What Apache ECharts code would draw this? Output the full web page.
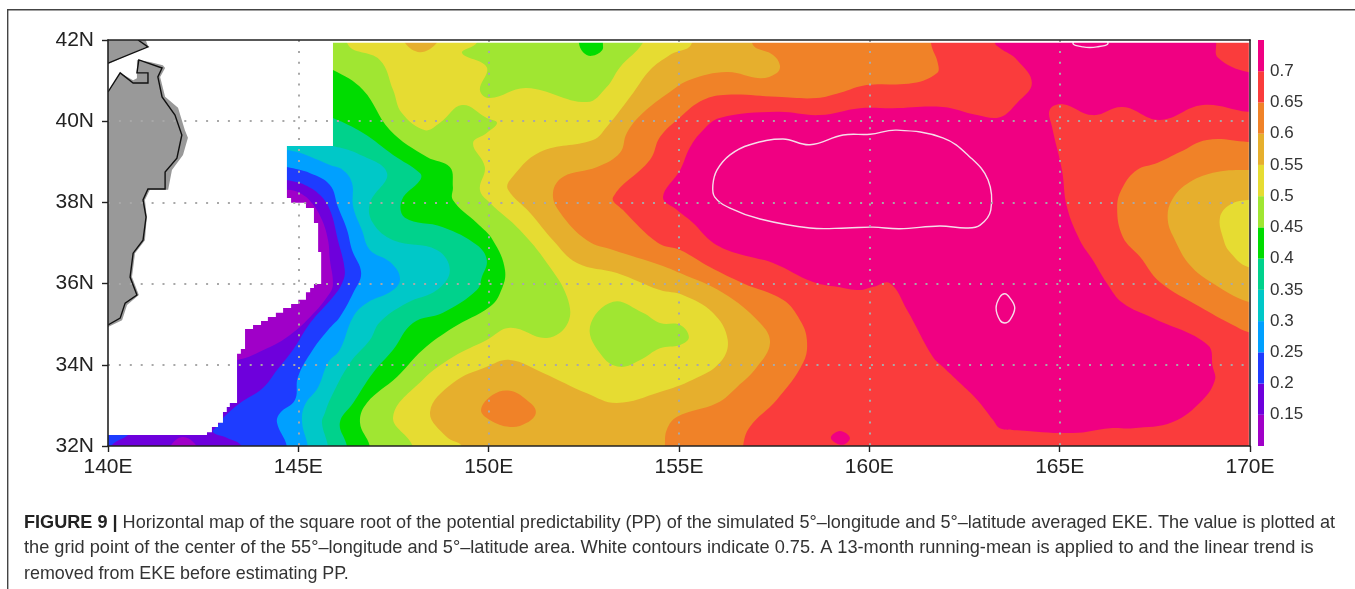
<!DOCTYPE html>
<html><head><meta charset="utf-8">
<style>html,body{margin:0;padding:0;background:#fff}#c{width:1355px;height:589px}</style>
<script src="https://cdn.jsdelivr.net/npm/echarts@6/dist/echarts.min.js"></script>
</head><body><div id="c"></div>
<script>
// Axis ticks
const lonTicks = [140,145,150,155,160,165,170];
const latTicks = [32,34,36,38,40,42];
const colorbarTicks = [0.15,0.2,0.25,0.3,0.35,0.4,0.45,0.5,0.55,0.6,0.65,0.7];
// Shading classes (low to high)
const levelEdges = [0.10,0.15,0.20,0.25,0.30,0.35,0.40,0.45,0.50,0.55,0.60,0.65,0.70,0.75];
const levelColors = ['#a000c8','#6e00dc','#1e3cff','#00a0ff','#00c8c8','#00d28c','#00dc00','#a0e632','#e6dc32','#e6af2d','#f08228','#fa3c3c','#f00082'];

// Contour outlines, [lon E, lat N]
const rBase = [[139,31],[172,31],[172,44],[139,44]];
const rPurpleCoast = [[142.42,38.31],[144.70,38.31],[145.04,38.23],[145.36,37.98],[145.62,37.57],[145.78,37.07],[145.83,36.58],[145.91,36.01],[145.83,35.77],[145.31,35.18],[144.70,34.68],[144.18,34.41],[143.39,34.12],[142.42,34.12]];
const rPurpleStrip = [[141.5,31.5],[141.63,31.98],[141.97,32.22],[142.34,31.98],[142.5,31.5]];
const rBlueCorner = [[139,32.4],[140.6,32.4],[140.5,32.25],[140.2,32.1],[140.0,31.95],[139,31.5]];
const rBlue = [[144,38.7],[144.70,38.55],[145.17,38.43],[145.57,38.18],[145.83,37.81],[146.04,37.07],[146.22,36.33],[146.15,36.01],[145.91,35.67],[145.31,35.03],[144.86,34.37],[144.44,33.87],[144.07,33.43],[143.47,33.06],[143.02,32.69],[142.89,32.51],[142.76,32.34],[143.13,32.20],[143.52,31.98],[143.7,31],[172,31],[172,44],[144,44]];
const rSky = [[144,39.0],[144.70,38.87],[145.31,38.72],[145.83,38.43],[146.04,37.89],[146.28,37.32],[146.41,36.83],[146.65,36.26],[146.44,35.77],[146.09,35.18],[145.83,34.91],[145.38,34.37],[144.99,33.70],[144.91,33.13],[144.52,32.81],[144.44,32.57],[144.70,31.98],[144.75,31],[172,31],[172,44],[144,44]];
const rCyan = [[144,39.4],[144.70,39.29],[145.04,39.22],[145.83,38.92],[146.17,38.80],[146.41,38.48],[146.44,37.89],[146.67,37.32],[146.88,36.83],[147.41,36.53],[147.67,36.14],[147.49,35.84],[146.80,35.52],[146.44,35.18],[146.09,34.37],[145.78,34.05],[145.52,33.45],[145.17,33.01],[145.10,32.57],[145.25,31.98],[145.3,31],[172,31],[172,44],[144,44]];
const rTeal = [[145.0,39.6],[145.91,39.39],[146.54,39.21],[147.33,38.72],[146.88,37.98],[146.96,37.49],[147.49,37.07],[148.64,36.83],[148.98,36.33],[148.64,35.84],[147.85,35.52],[147.14,35.05],[146.88,34.61],[146.36,34.05],[145.83,33.14],[145.70,32.82],[145.62,32.57],[145.78,31.98],[145.85,31],[172,31],[172,44],[145,44]];
const rGreen = [[145.0,40.4],[145.91,40.08],[146.70,39.71],[147.49,39.17],[148.20,38.72],[148.20,38.55],[147.72,38.06],[147.80,37.62],[148.80,37.39],[149.69,36.95],[149.95,36.58],[149.82,36.16],[149.69,35.84],[148.80,35.28],[148.01,35.03],[147.49,34.37],[146.96,33.80],[146.44,33.06],[146.09,32.57],[146.28,31.98],[146.35,31],[172,31],[172,44],[145,44]];
const rLime = [[145.0,41.6],[145.91,41.26],[146.70,40.77],[147.41,39.78],[148.38,39.12],[148.98,38.87],[149.06,38.38],[149.06,38.06],[149.69,37.49],[150.11,37.07],[150.43,36.33],[150.30,35.77],[150.03,35.43],[149.06,34.91],[148.27,34.37],[147.59,33.70],[146.80,33.06],[146.62,32.57],[146.88,31.98],[146.95,31],[172,31],[172,44],[145,44]];
const rYellow = [[146.2,44],[146.28,41.93],[147.14,41.51],[147.49,40.77],[147.72,40.20],[148.33,39.78],[148.72,39.96],[149.30,40.40],[149.95,40.08],[150.22,39.96],[149.95,39.71],[149.59,39.46],[149.90,38.87],[149.77,38.31],[150.03,37.99],[150.82,37.32],[151.53,36.51],[152.06,35.67],[152.08,35.03],[151.53,34.66],[150.56,34.91],[149.95,34.61],[149.06,34.19],[148.27,33.63],[147.49,32.72],[148.01,31.98],[148.1,31],[172,31],[172,44]];
const rLimeNorth = [[149.8,42.5],[149.69,41.93],[149.30,41.68],[149.95,41.33],[149.77,40.77],[150.03,40.57],[151.0,40.82],[152.58,40.47],[153.10,40.84],[153.45,41.33],[154.05,41.93],[154.2,42.5]];
const rLimeSouth = [[152.66,34.93],[153.27,35.55],[154.05,35.28],[154.50,35.03],[155.03,34.98],[155.26,34.68],[155.03,34.49],[154.50,34.41],[153.98,34.12],[153.45,33.95],[153.0,34.19]];
const rGreenNorth = [[152.4,42.2],[152.37,41.93],[152.48,41.70],[152.71,41.61],[152.98,41.75],[153.0,41.93],[153.0,42.2]];
const rGoldNorth = [[147.7,42.3],[147.8,41.93],[148.2,41.7],[148.64,41.93],[148.75,42.3]];
const rGold = [[155.5,44],[155.34,41.93],[154.76,41.63],[154.24,41.26],[153.79,40.69],[153.10,39.86],[152.74,39.54],[151.35,39.24],[150.56,38.55],[150.51,38.31],[151.09,37.74],[151.69,37.07],[152.32,36.51],[153.37,36.26],[154.50,35.84],[155.10,35.72],[155.89,35.28],[156.28,34.61],[156.07,34.05],[155.36,33.63],[154.50,33.33],[153.37,33.06],[152.58,33.30],[151.43,33.80],[150.56,34.12],[149.95,33.95],[149.06,33.55],[148.46,32.84],[148.90,32.22],[149.30,31.98],[149.4,31],[172,31],[172,44]];
const rOrange = [[156.8,44],[156.92,41.93],[157.47,41.63],[157.65,41.38],[157.57,41.19],[157.13,41.06],[156.26,41.21],[155.29,41.02],[154.76,40.72],[154.05,40.20],[153.63,39.71],[153.45,39.22],[152.85,38.87],[151.96,38.63],[151.69,38.23],[151.87,37.76],[152.58,37.07],[153.27,36.83],[154.50,36.46],[155.03,36.26],[156.16,35.77],[157.13,35.03],[157.39,34.54],[157.05,33.95],[156.52,33.45],[156.0,33.06],[154.95,32.72],[154.68,32.40],[154.63,31.98],[154.6,31],[172,31],[172,44]];
const rOrangeSouth = [[149.80,32.89],[150.11,33.26],[150.56,33.36],[151.0,33.13],[151.24,32.84],[151.0,32.57],[150.56,32.47],[150.03,32.64]];
const rRed = [[161.5,44],[161.62,41.93],[161.80,41.43],[161.78,41.19],[161.15,40.94],[159.93,40.89],[159.23,40.70],[158.62,40.57],[157.57,40.60],[156.26,40.65],[155.63,40.52],[155.03,40.10],[154.50,39.61],[154.24,39.05],[153.27,38.13],[153.53,37.81],[154.45,37.0],[155.03,36.83],[155.81,36.41],[156.68,36.01],[157.73,35.60],[158.18,35.10],[158.36,34.61],[158.26,34.05],[157.57,33.14],[156.86,32.47],[156.68,31.98],[156.6,31],[172,31],[172,44]];
const rPink = [[154.58,38.13],[155.03,38.80],[155.29,39.36],[155.63,39.78],[156.07,40.08],[157.57,40.23],[158.70,40.15],[159.75,40.32],[160.62,40.32],[161.93,40.35],[162.83,40.15],[163.43,40.10],[163.88,40.45],[164.27,40.94],[163.88,41.51],[163.43,41.80],[163.30,41.93],[163.2,44],[172,44],[172,40.1],[169.95,40.23],[168.76,40.40],[167.63,40.03],[166.66,40.35],[165.87,40.15],[165.08,40.42],[164.74,40.28],[164.80,39.86],[165.06,38.80],[165.19,37.89],[165.53,37.07],[165.87,36.58],[166.24,36.01],[166.66,35.52],[167.45,35.15],[168.89,34.49],[169.02,33.95],[169.08,33.63],[168.76,33.14],[167.97,32.59],[166.93,32.44],[166.32,32.44],[165.35,32.32],[163.88,32.39],[163.43,32.44],[163.25,32.64],[162.83,33.14],[162.38,33.55],[161.93,33.95],[161.67,34.19],[160.99,35.35],[160.54,36.01],[160.10,35.92],[159.75,35.84],[159.15,35.92],[158.52,36.04],[157.47,36.51],[156.86,36.66],[156.26,36.83],[155.81,37.07],[155.37,37.49],[154.95,37.81]];
const rRedCorner = [[169.0,44],[169.11,41.93],[169.16,41.56],[169.95,41.21],[172,41.0],[172,44]];
const rPinkSouth = [[158.99,32.20],[159.23,32.37],[159.49,32.20],[159.28,32.03]];
const rOrangeEast = [[172,39.4],[169.95,39.49],[168.87,39.54],[168.16,39.24],[167.56,38.97],[167.03,38.80],[166.66,38.38],[166.51,37.89],[166.66,37.15],[167.11,36.66],[167.63,36.04],[168.68,35.43],[169.55,34.98],[169.95,34.81],[172,34.3]];
const rGoldEast = [[172,38.8],[169.95,38.80],[169.13,38.75],[168.42,38.50],[167.95,38.06],[167.84,37.57],[168.03,37.07],[168.42,36.46],[169.02,36.01],[169.95,35.55],[172,35]];
const rYellowEast = [[172,38.1],[169.95,38.06],[169.47,37.94],[169.21,37.62],[169.31,37.07],[169.47,36.78],[169.95,36.41],[172,36]];

// 0.75 contours
const c75Main = [[155.89,38.43],[156.0,38.80],[156.34,39.17],[156.86,39.42],[157.73,39.56],[158.44,39.42],[159.31,39.66],[160.02,39.68],[160.72,39.78],[161.93,39.59],[162.64,39.12],[163.12,38.55],[163.19,37.81],[162.91,37.44],[162.56,37.37],[161.85,37.42],[160.80,37.35],[160.09,37.39],[159.41,37.37],[158.44,37.37],[157.13,37.59],[156.34,37.86],[155.94,38.13]];
const c75Small = [[163.33,35.40],[163.43,35.67],[163.56,35.75],[163.69,35.65],[163.82,35.40],[163.69,35.10],[163.56,35.03],[163.43,35.10]];
const c75Top = [[165.35,41.93],[165.61,41.83],[165.98,41.83],[166.27,41.93],[165.8,42.4]];

// Area without data
const rNoData = [[139,42.5],[171,42.5],[171,41.93],[145.91,41.93],[145.91,39.39],[144.70,39.39],[144.70,38.11],[144.81,38.11],[144.81,37.99],[145.20,37.99],[145.20,37.86],[145.41,37.86],[145.41,37.49],[145.52,37.49],[145.52,36.78],[145.60,36.78],[145.60,35.99],[145.41,35.99],[145.41,35.89],[145.31,35.89],[145.31,35.79],[145.20,35.79],[145.20,35.60],[145.0,35.60],[145.0,35.50],[144.81,35.50],[144.81,35.40],[144.60,35.40],[144.60,35.28],[144.41,35.28],[144.41,35.18],[144.20,35.18],[144.20,35.08],[144.02,35.08],[144.02,34.98],[143.81,34.98],[143.81,34.88],[143.60,34.88],[143.60,34.39],[143.49,34.39],[143.49,34.27],[143.39,34.27],[143.39,33.06],[143.20,33.06],[143.20,32.96],[143.12,32.96],[143.12,32.84],[143.02,32.84],[143.02,32.57],[142.89,32.57],[142.89,32.47],[142.73,32.47],[142.73,32.34],[142.60,32.34],[142.60,32.27],[139,32.27]];
const rNoDataEast = [[169.97,42.5],[171,42.5],[171,31],[169.97,31]];

// Land and coast
const landNorth = [[139,42.5],[140.79,42.5],[141.05,41.85],[141.10,41.87],[140,41.40],[139,41.4]];
const landMain = [[139,40.72],[140,40.72],[140.32,41.19],[140.66,41.01],[140.76,41.06],[140.76,41.51],[141.10,41.46],[141.44,41.38],[141.50,41.31],[141.37,41.09],[141.50,40.60],[141.84,40.33],[142.02,39.78],[142.10,39.59],[141.97,39.17],[141.68,38.80],[141.58,38.31],[141.10,38.31],[140.97,38.06],[141.02,37.64],[140.97,37.07],[140.71,36.75],[140.63,36.16],[140.81,35.72],[140.50,35.47],[140.37,35.10],[140,34.93],[139,34.93]];
const coastNorth = [[140.79,42],[141.05,41.83],[140,41.43]];
const coastMain = [[140,40.72],[140.32,41.19],[140.66,40.94],[141.05,40.94],[141.05,41.19],[140.76,41.19],[140.81,41.51],[141.42,41.31],[141.31,41.09],[141.42,40.60],[141.76,40.15],[141.94,39.66],[141.81,39.09],[141.50,38.75],[141.50,38.33],[141.05,38.33],[140.92,38.06],[141.0,37.64],[140.92,37.07],[140.66,36.75],[140.58,36.16],[140.76,35.72],[140.45,35.52],[140.32,35.15],[140,34.98]];

// Painting order: [outline, level]
const fillOrder = [[rBase,1],[rPurpleCoast,0],[rPurpleStrip,0],[rBlueCorner,2],[rBlue,2],[rSky,3],[rCyan,4],[rTeal,5],[rGreen,6],[rLime,7],[rYellow,8],[rLimeNorth,7],[rLimeSouth,7],[rGreenNorth,6],[rGold,9],[rGoldNorth,9],[rOrange,10],[rOrangeSouth,10],[rRed,11],[rPink,12],[rRedCorner,11],[rPinkSouth,12],[rOrangeEast,10],[rGoldEast,9],[rYellowEast,8]];
const contours = [c75Main,c75Small,c75Top];

const captionHead = 'FIGURE 9 | ';
const caption1 = 'Horizontal map of the square root of the potential predictability (PP) of the simulated 5°–longitude and 5°–latitude averaged EKE. The value is plotted at';
const caption2 = 'the grid point of the center of the 55°–longitude and 5°–latitude area. White contours indicate 0.75. A 13-month running-mean is applied to and the linear trend is';
const caption3 = 'removed from EKE before estimating PP.';

const font = '"Liberation Sans", Arial, sans-serif';
const chart = echarts.init(document.getElementById('c'));

const drawList = [];
fillOrder.forEach(f=>drawList.push({type:'fill',ring:f[0],color:levelColors[f[1]],smooth:f[0]===rBase?0:0.4}));
contours.forEach(r=>drawList.push({type:'contour',ring:r}));
[rNoData,rNoDataEast].forEach(r=>drawList.push({type:'fill',ring:r,color:'#ffffff',smooth:0}));
[landNorth,landMain].forEach(r=>drawList.push({type:'fill',ring:r,color:'#999999',smooth:0}));
[coastNorth,coastMain].forEach(r=>drawList.push({type:'coast',ring:r}));

function renderMap(params, api){
  const d = drawList[params.dataIndex];
  const points = d.ring.map(p=>api.coord(p));
  if(d.type==='fill') return {type:'polygon',shape:{points,smooth:d.smooth},style:{fill:d.color,stroke:null}};
  if(d.type==='contour') return {type:'polygon',shape:{points,smooth:0.4},style:{fill:null,stroke:'#f6dcea',lineWidth:1.4}};
  return {type:'polyline',shape:{points},style:{fill:null,stroke:'#111',lineWidth:1.4}};
}
function renderBar(params, api){
  const a = api.coord([0,api.value(1)]), b = api.coord([1,api.value(0)]);
  return {type:'rect',shape:{x:a[0],y:a[1],width:b[0]-a[0],height:b[1]-a[1]},style:{fill:levelColors[params.dataIndex]}};
}
const text = (s,x,y,size,extra)=>({type:'text',x,y,silent:true,style:Object.assign({text:s,font:size+'px '+font,fill:'#333',textVerticalAlign:'middle'},extra||{})});

chart.setOption({
  animation:false,
  grid:[
    {left:108,top:40,width:1142,height:406},
    {left:1258,top:40,width:6,height:406}
  ],
  xAxis:[
    {type:'value',gridIndex:0,min:lonTicks[0],max:lonTicks[lonTicks.length-1],interval:5,z:10,
      axisLine:{show:true,onZero:false,lineStyle:{color:'#222',width:1.6}},
      axisTick:{show:true,length:6,lineStyle:{color:'#222',width:1.4}},
      axisLabel:{color:'#222',fontSize:21,fontFamily:font,margin:11,formatter:v=>v+'E'},
      splitLine:{show:true,showMinLine:false,showMaxLine:false,lineStyle:{color:'#a8a8a8',width:2,type:[2,8.9]}}},
    {type:'value',gridIndex:0,position:'top',min:140,max:170,interval:5,z:10,
      axisLine:{show:true,onZero:false,lineStyle:{color:'#222',width:1.6}},axisTick:{show:false},axisLabel:{show:false},splitLine:{show:false}},
    {type:'value',gridIndex:1,min:0,max:1,show:false}
  ],
  yAxis:[
    {type:'value',gridIndex:0,min:latTicks[0],max:latTicks[latTicks.length-1],interval:2,z:10,
      axisLine:{show:true,onZero:false,lineStyle:{color:'#222',width:1.6}},
      axisTick:{show:true,length:6,lineStyle:{color:'#222',width:1.4}},
      axisLabel:{color:'#222',fontSize:21,fontFamily:font,margin:14,formatter:v=>v+'N'},
      splitLine:{show:true,showMinLine:false,showMaxLine:false,lineStyle:{color:'#a8a8a8',width:2,type:[2,8.9]}}},
    {type:'value',gridIndex:0,position:'right',min:32,max:42,interval:2,z:10,
      axisLine:{show:true,onZero:false,lineStyle:{color:'#222',width:1.6}},axisTick:{show:false},axisLabel:{show:false},splitLine:{show:false}},
    {type:'value',gridIndex:1,position:'right',min:levelEdges[0],max:levelEdges[levelEdges.length-1],interval:0.05,
      axisLine:{show:false},axisTick:{show:false},splitLine:{show:false},
      axisLabel:{color:'#333',fontSize:17,fontFamily:font,margin:6,
        formatter:v=>{const r=Math.round(v*100)/100;return colorbarTicks.includes(r)?String(r):'';}}}
  ],
  series:[
    {type:'custom',xAxisIndex:0,yAxisIndex:0,clip:true,silent:true,renderItem:renderMap,
      data:drawList.map(d=>d.ring[0])},
    {type:'custom',xAxisIndex:2,yAxisIndex:2,silent:true,renderItem:renderBar,
      encode:{y:[0,1]},
      data:levelColors.map((c,i)=>[levelEdges[i],levelEdges[i+1]])}
  ],
  graphic:{elements:[
    {type:'rect',shape:{x:7,y:9,width:1348,height:1.4},style:{fill:'#444'},silent:true},
    {type:'rect',shape:{x:7,y:9,width:1.4,height:580},style:{fill:'#444'},silent:true},
    text('',24,523,18.1,{rich:{b:{font:'bold 18.1px '+font,fill:'#222'},n:{font:'18.1px '+font,fill:'#333'}},text:'{b|'+captionHead+'}{n|'+caption1+'}'}),
    text(caption2,24,548,18.2),
    text(caption3,24,574,17.9)
  ]}
});
</script></body></html>
